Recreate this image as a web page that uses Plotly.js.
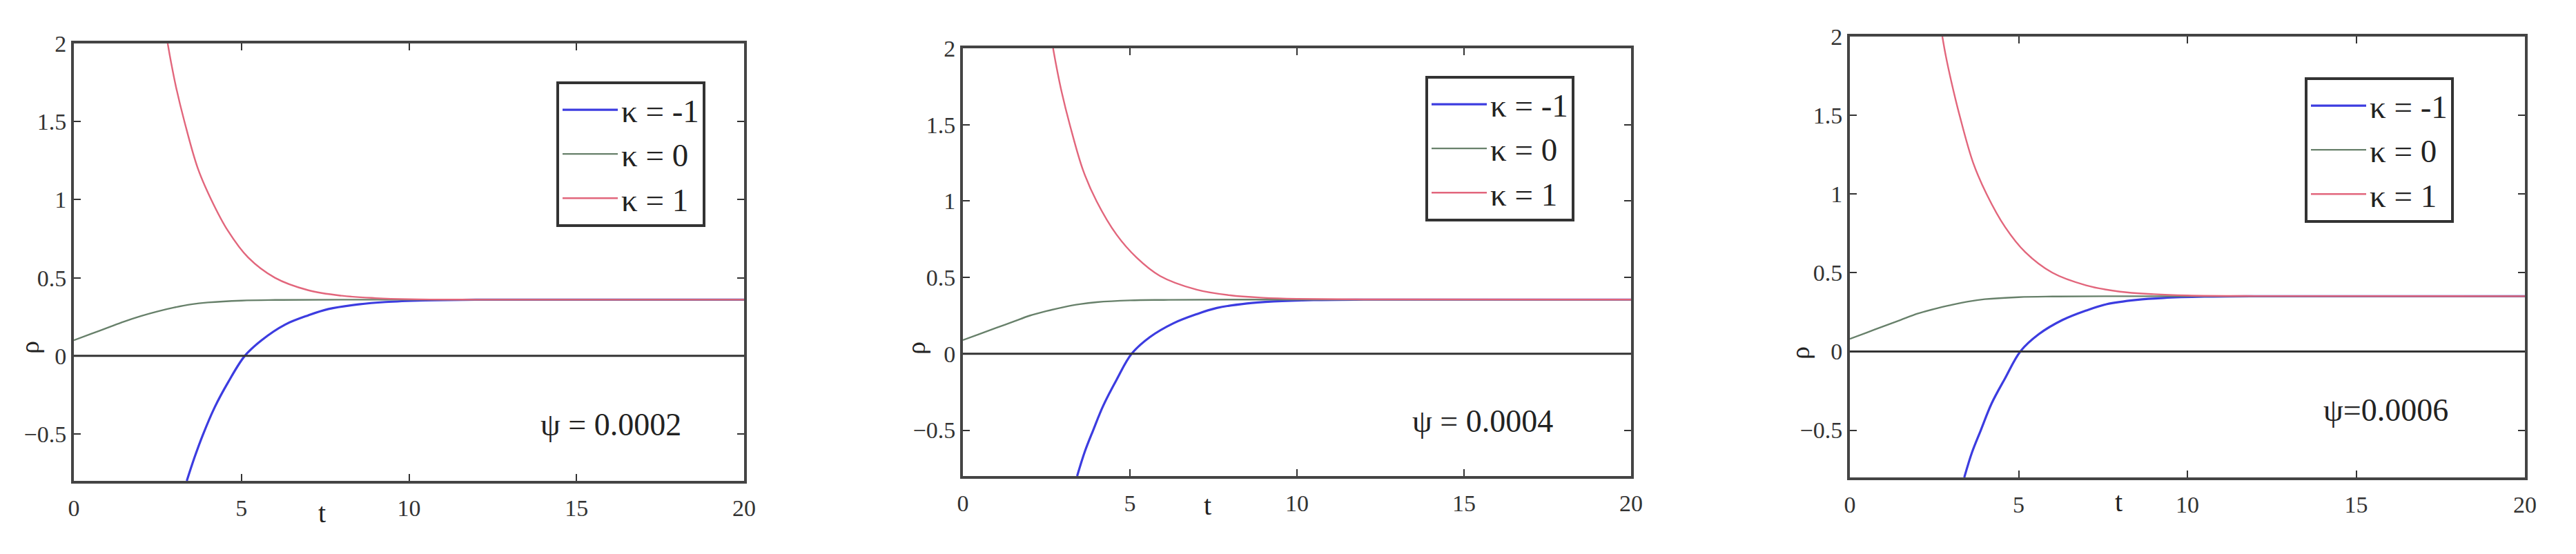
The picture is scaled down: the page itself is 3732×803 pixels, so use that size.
<!DOCTYPE html>
<html>
<head>
<meta charset="utf-8">
<script src="https://cdn.plot.ly/plotly-3.0.1.min.js"></script>
<style>
  html, body { margin: 0; padding: 0; background: #fff; }
  #chart { width: 3732px; height: 803px; }
</style>
</head>
<body>
<div id="chart"></div>
<script>
/* three panels: rho(t) for kappa = -1, 0, 1 at three psi values */
var KAPPA_NAMES = ["κ = -1", "κ = 0", "κ = 1"];
var PSI_LABELS = ["ψ = 0.0002", "ψ = 0.0004", "ψ=0.0006"];
var X_TICKS = [0, 5, 10, 15, 20];
var Y_TICKS = [-0.5, 0, 0.5, 1, 1.5, 2];

// panel 1 (psi = 0.0002)
var p1NegT   = [3.37, 3.6, 3.86, 4.2, 4.6, 5.1, 5.6, 6.3, 7.0, 7.6, 8.5, 9.3, 10.5, 12, 20];
var p1NegRho = [-0.8, -0.65, -0.5, -0.33, -0.17, 0.0, 0.1, 0.2, 0.26, 0.3, 0.33, 0.345, 0.355, 0.36, 0.36];
var p1ZeroT   = [0, 0.5, 1, 1.5, 2, 2.5, 3, 3.5, 4, 5, 6, 8, 20];
var p1ZeroRho = [0.1, 0.14, 0.18, 0.22, 0.255, 0.285, 0.31, 0.33, 0.342, 0.354, 0.358, 0.36, 0.36];
var p1PosT   = [2.8, 2.9, 3.05, 3.3, 3.7, 4.1, 4.6, 5.2, 6.0, 7.0, 8.0, 9.0, 10, 12, 20];
var p1PosRho = [2.0, 1.88, 1.72, 1.5, 1.2, 1.0, 0.8, 0.63, 0.5, 0.42, 0.385, 0.37, 0.363, 0.36, 0.36];

// panel 2 (psi = 0.0004)
var p2NegT   = [3.42, 3.65, 3.9, 4.2, 4.6, 5.05, 5.6, 6.3, 7.0, 7.6, 8.5, 9.3, 10.5, 12, 20];
var p2NegRho = [-0.8, -0.64, -0.5, -0.34, -0.17, 0.0, 0.11, 0.2, 0.26, 0.3, 0.33, 0.343, 0.352, 0.355, 0.355];
var p2ZeroT   = [0, 0.5, 1, 1.5, 2, 2.5, 3, 3.5, 4, 5, 6, 8, 20];
var p2ZeroRho = [0.09, 0.13, 0.17, 0.21, 0.25, 0.28, 0.305, 0.325, 0.338, 0.35, 0.353, 0.355, 0.355];
var p2PosT   = [2.7, 2.8, 2.95, 3.2, 3.6, 4.0, 4.6, 5.2, 5.9, 7.0, 8.0, 9.0, 10, 12, 20];
var p2PosRho = [2.0, 1.88, 1.72, 1.5, 1.2, 1.0, 0.78, 0.63, 0.51, 0.42, 0.383, 0.367, 0.36, 0.356, 0.355];

// panel 3 (psi = 0.0006)
var p3NegT   = [3.39, 3.62, 3.88, 4.2, 4.6, 5.05, 5.6, 6.3, 7.0, 7.6, 8.5, 9.3, 10.5, 12, 20];
var p3NegRho = [-0.8, -0.64, -0.5, -0.33, -0.17, 0.0, 0.11, 0.2, 0.26, 0.3, 0.328, 0.34, 0.348, 0.351, 0.351];
var p3ZeroT   = [0, 0.5, 1, 1.5, 2, 2.5, 3, 3.5, 4, 5, 6, 8, 20];
var p3ZeroRho = [0.08, 0.12, 0.16, 0.2, 0.24, 0.27, 0.295, 0.317, 0.332, 0.345, 0.349, 0.351, 0.351];
var p3PosT   = [2.74, 2.84, 3.0, 3.25, 3.65, 4.05, 4.6, 5.2, 6.0, 7.0, 8.0, 9.0, 10, 12, 20];
var p3PosRho = [2.0, 1.88, 1.72, 1.5, 1.2, 1.0, 0.79, 0.63, 0.5, 0.42, 0.38, 0.364, 0.356, 0.352, 0.351];

(function () {
  "use strict";
  var W = 3732, H = 803;
  var SERIF = "Liberation Serif, Times New Roman, serif";
  var COLORS = ["#3c3ce0", "#67806a", "#e2667c"];
  var WIDTHS = [3.2, 2.4, 2.4];

  // pixel boxes: [left, top, right, bottom]
  var boxes = [[107, 63, 1078, 697], [1395, 70, 2363, 690], [2680, 53, 3658, 692]];
  var legendAt = [[806, 118], [2065, 110], [3339, 112]];
  var psiAt = [[885, 615], [2148, 610], [3456, 594]];
  var tAt = [[466, 743], [1749, 732], [3069, 727]];
  var rhoAt = [[43, 504], [1327, 505], [2608, 512]];

  var series = [
    [[p1NegT, p1NegRho], [p1ZeroT, p1ZeroRho], [p1PosT, p1PosRho]],
    [[p2NegT, p2NegRho], [p2ZeroT, p2ZeroRho], [p2PosT, p2PosRho]],
    [[p3NegT, p3NegRho], [p3ZeroT, p3ZeroRho], [p3PosT, p3PosRho]]
  ];

  function px(x) { return x / W; }
  function py(y) { return 1 - y / H; }
  function label(at, text, size, extra) {
    return Object.assign({
      xref: "paper", yref: "paper", x: px(at[0]), y: py(at[1]),
      xanchor: "center", yanchor: "middle", text: text, showarrow: false,
      font: { family: SERIF, size: size, color: "#222" }
    }, extra || {});
  }

  var traces = [], annotations = [], shapes = [];
  var layout = {
    width: W, height: H,
    margin: { l: 0, r: 0, t: 0, b: 0 },
    paper_bgcolor: "#fff", plot_bgcolor: "#fff",
    font: { family: SERIF, color: "#333" },
    showlegend: true
  };

  series.forEach(function (panel, pi) {
    var n = pi + 1, sx = pi ? String(n) : "";
    var legendId = pi ? "legend" + n : "legend";
    var b = boxes[pi];
    panel.forEach(function (s, k) {
      traces.push({
        type: "scatter", mode: "lines", name: KAPPA_NAMES[k],
        x: s[0], y: s[1], xaxis: "x" + sx, yaxis: "y" + sx,
        legend: legendId,
        line: { color: COLORS[k], width: WIDTHS[k], shape: "spline", smoothing: 1 },
        hoverinfo: "skip"
      });
    });
    var axCommon = {
      showgrid: false, zeroline: false, showline: true, linecolor: "#444", linewidth: 4,
      mirror: "allticks", ticks: "inside", ticklen: 10, tickwidth: 2, tickcolor: "#333",
      tickfont: { family: SERIF, size: 34, color: "#333" }, fixedrange: true
    };
    layout["xaxis" + sx] = Object.assign({}, axCommon, {
      domain: [px(b[0]), px(b[2])], anchor: "y" + sx, range: [0, 20],
      tickvals: X_TICKS, ticklabelstandoff: 6
    });
    layout["yaxis" + sx] = Object.assign({}, axCommon, {
      domain: [py(b[3]), py(b[1])], anchor: "x" + sx, range: [-0.8, 2],
      tickvals: Y_TICKS, ticklabelstandoff: 0
    });
    // horizontal black line at rho = 0
    shapes.push({
      type: "line", xref: "x" + sx + " domain", yref: "y" + sx,
      x0: 0, x1: 1, y0: 0, y1: 0, line: { color: "#333", width: 3 }
    });
    layout[legendId] = {
      x: px(legendAt[pi][0]), y: py(legendAt[pi][1]), xanchor: "left", yanchor: "top",
      bgcolor: "#fff", bordercolor: "#333", borderwidth: 4,
      font: { family: SERIF, size: 47, color: "#222" }, itemwidth: 80
    };
    annotations.push(label(psiAt[pi], PSI_LABELS[pi], 46));
    annotations.push(label(tAt[pi], "t", 40));
    annotations.push(label(rhoAt[pi], "ρ", 38, { textangle: -90 }));
  });

  layout.annotations = annotations;
  layout.shapes = shapes;
  Plotly.newPlot("chart", traces, layout, { displayModeBar: false, staticPlot: true });
})();
</script>
</body>
</html>
